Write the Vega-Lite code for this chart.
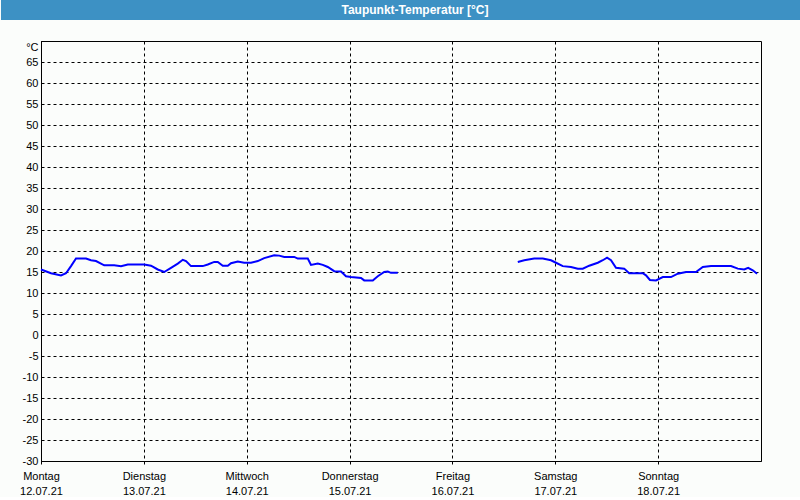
{
  "$schema": "https://vega.github.io/schema/vega-lite/v6.json",
  "background": "#fbfdfb",
  "padding": 0,
  "spacing": 20,
  "config": {"view": {"stroke": "#000000", "strokeWidth": 1}, "font": "Liberation Sans"},
  "vconcat": [
    {
      "width": 760,
      "height": 20,
      "view": {"fill": "#3d91c4", "stroke": null},
      "data": {"values": [{"titel": "Taupunkt-Temperatur [°C]"}]},
      "mark": {"type": "text", "color": "#ffffff", "font": "Liberation Sans", "fontWeight": "bold", "fontSize": 12, "dx": -6, "align": "center", "baseline": "middle"},
      "encoding": {
        "text": {"field": "titel"},
        "y": {"datum": 0.5, "type": "quantitative", "scale": {"domain": [0, 1], "nice": false, "zero": false}, "axis": {"title": null, "labels": false, "ticks": false, "grid": false, "translate": 0, "domainColor": "#3d91c4", "domainWidth": 80, "domainCap": "butt"}}
      }
    },
    {
      "width": 720,
      "height": 420,
      "data": {"values": [
        {"zeit": "2021-07-12T00:00", "wert": 15.6, "abschnitt": 1},
        {"zeit": "2021-07-12T02:20", "wert": 14.7, "abschnitt": 1},
        {"zeit": "2021-07-12T04:40", "wert": 14.2, "abschnitt": 1},
        {"zeit": "2021-07-12T05:50", "wert": 14.7, "abschnitt": 1},
        {"zeit": "2021-07-12T07:00", "wert": 16.4, "abschnitt": 1},
        {"zeit": "2021-07-12T08:10", "wert": 18.2, "abschnitt": 1},
        {"zeit": "2021-07-12T10:30", "wert": 18.2, "abschnitt": 1},
        {"zeit": "2021-07-12T11:40", "wert": 17.8, "abschnitt": 1},
        {"zeit": "2021-07-12T12:50", "wert": 17.6, "abschnitt": 1},
        {"zeit": "2021-07-12T14:45", "wert": 16.6, "abschnitt": 1},
        {"zeit": "2021-07-12T17:05", "wert": 16.6, "abschnitt": 1},
        {"zeit": "2021-07-12T18:40", "wert": 16.4, "abschnitt": 1},
        {"zeit": "2021-07-12T20:15", "wert": 16.8, "abschnitt": 1},
        {"zeit": "2021-07-13T00:05", "wert": 16.8, "abschnitt": 1},
        {"zeit": "2021-07-13T01:40", "wert": 16.5, "abschnitt": 1},
        {"zeit": "2021-07-13T03:15", "wert": 15.6, "abschnitt": 1},
        {"zeit": "2021-07-13T04:45", "wert": 15.0, "abschnitt": 1},
        {"zeit": "2021-07-13T06:20", "wert": 16.0, "abschnitt": 1},
        {"zeit": "2021-07-13T07:55", "wert": 17.0, "abschnitt": 1},
        {"zeit": "2021-07-13T09:05", "wert": 17.9, "abschnitt": 1},
        {"zeit": "2021-07-13T09:50", "wert": 17.6, "abschnitt": 1},
        {"zeit": "2021-07-13T11:00", "wert": 16.4, "abschnitt": 1},
        {"zeit": "2021-07-13T13:45", "wert": 16.4, "abschnitt": 1},
        {"zeit": "2021-07-13T14:55", "wert": 16.8, "abschnitt": 1},
        {"zeit": "2021-07-13T16:25", "wert": 17.4, "abschnitt": 1},
        {"zeit": "2021-07-13T17:15", "wert": 17.4, "abschnitt": 1},
        {"zeit": "2021-07-13T18:25", "wert": 16.5, "abschnitt": 1},
        {"zeit": "2021-07-13T19:35", "wert": 16.5, "abschnitt": 1},
        {"zeit": "2021-07-13T20:20", "wert": 17.1, "abschnitt": 1},
        {"zeit": "2021-07-13T21:55", "wert": 17.5, "abschnitt": 1},
        {"zeit": "2021-07-13T23:25", "wert": 17.2, "abschnitt": 1},
        {"zeit": "2021-07-14T01:00", "wert": 17.2, "abschnitt": 1},
        {"zeit": "2021-07-14T02:35", "wert": 17.6, "abschnitt": 1},
        {"zeit": "2021-07-14T04:05", "wert": 18.3, "abschnitt": 1},
        {"zeit": "2021-07-14T06:25", "wert": 19.0, "abschnitt": 1},
        {"zeit": "2021-07-14T07:35", "wert": 18.9, "abschnitt": 1},
        {"zeit": "2021-07-14T08:45", "wert": 18.6, "abschnitt": 1},
        {"zeit": "2021-07-14T11:05", "wert": 18.6, "abschnitt": 1},
        {"zeit": "2021-07-14T11:55", "wert": 18.2, "abschnitt": 1},
        {"zeit": "2021-07-14T14:15", "wert": 18.2, "abschnitt": 1},
        {"zeit": "2021-07-14T15:00", "wert": 16.7, "abschnitt": 1},
        {"zeit": "2021-07-14T16:35", "wert": 17.0, "abschnitt": 1},
        {"zeit": "2021-07-14T17:45", "wert": 16.7, "abschnitt": 1},
        {"zeit": "2021-07-14T18:55", "wert": 16.2, "abschnitt": 1},
        {"zeit": "2021-07-14T20:25", "wert": 15.2, "abschnitt": 1},
        {"zeit": "2021-07-14T22:00", "wert": 15.1, "abschnitt": 1},
        {"zeit": "2021-07-14T23:10", "wert": 14.0, "abschnitt": 1},
        {"zeit": "2021-07-15T00:20", "wert": 13.8, "abschnitt": 1},
        {"zeit": "2021-07-15T02:40", "wert": 13.6, "abschnitt": 1},
        {"zeit": "2021-07-15T03:25", "wert": 13.0, "abschnitt": 1},
        {"zeit": "2021-07-15T05:25", "wert": 13.0, "abschnitt": 1},
        {"zeit": "2021-07-15T06:35", "wert": 14.0, "abschnitt": 1},
        {"zeit": "2021-07-15T08:05", "wert": 15.0, "abschnitt": 1},
        {"zeit": "2021-07-15T08:55", "wert": 15.1, "abschnitt": 1},
        {"zeit": "2021-07-15T09:40", "wert": 14.8, "abschnitt": 1},
        {"zeit": "2021-07-15T11:15", "wert": 14.8, "abschnitt": 1},
        {"zeit": "2021-07-16T15:15", "wert": 17.4, "abschnitt": 2},
        {"zeit": "2021-07-16T16:45", "wert": 17.8, "abschnitt": 2},
        {"zeit": "2021-07-16T19:05", "wert": 18.2, "abschnitt": 2},
        {"zeit": "2021-07-16T21:05", "wert": 18.2, "abschnitt": 2},
        {"zeit": "2021-07-16T23:00", "wert": 17.8, "abschnitt": 2},
        {"zeit": "2021-07-17T00:10", "wert": 17.2, "abschnitt": 2},
        {"zeit": "2021-07-17T01:45", "wert": 16.4, "abschnitt": 2},
        {"zeit": "2021-07-17T03:40", "wert": 16.2, "abschnitt": 2},
        {"zeit": "2021-07-17T05:15", "wert": 15.8, "abschnitt": 2},
        {"zeit": "2021-07-17T06:25", "wert": 15.8, "abschnitt": 2},
        {"zeit": "2021-07-17T07:55", "wert": 16.5, "abschnitt": 2},
        {"zeit": "2021-07-17T09:55", "wert": 17.2, "abschnitt": 2},
        {"zeit": "2021-07-17T11:05", "wert": 17.8, "abschnitt": 2},
        {"zeit": "2021-07-17T12:05", "wert": 18.4, "abschnitt": 2},
        {"zeit": "2021-07-17T13:00", "wert": 17.8, "abschnitt": 2},
        {"zeit": "2021-07-17T14:10", "wert": 16.0, "abschnitt": 2},
        {"zeit": "2021-07-17T16:05", "wert": 15.8, "abschnitt": 2},
        {"zeit": "2021-07-17T17:15", "wert": 14.7, "abschnitt": 2},
        {"zeit": "2021-07-17T20:25", "wert": 14.7, "abschnitt": 2},
        {"zeit": "2021-07-17T21:10", "wert": 14.2, "abschnitt": 2},
        {"zeit": "2021-07-17T22:05", "wert": 13.1, "abschnitt": 2},
        {"zeit": "2021-07-17T23:30", "wert": 13.0, "abschnitt": 2},
        {"zeit": "2021-07-18T01:05", "wert": 13.8, "abschnitt": 2},
        {"zeit": "2021-07-18T03:00", "wert": 13.8, "abschnitt": 2},
        {"zeit": "2021-07-18T04:35", "wert": 14.6, "abschnitt": 2},
        {"zeit": "2021-07-18T06:30", "wert": 15.0, "abschnitt": 2},
        {"zeit": "2021-07-18T08:50", "wert": 15.0, "abschnitt": 2},
        {"zeit": "2021-07-18T10:25", "wert": 16.2, "abschnitt": 2},
        {"zeit": "2021-07-18T12:20", "wert": 16.4, "abschnitt": 2},
        {"zeit": "2021-07-18T17:00", "wert": 16.4, "abschnitt": 2},
        {"zeit": "2021-07-18T18:35", "wert": 15.8, "abschnitt": 2},
        {"zeit": "2021-07-18T20:05", "wert": 15.6, "abschnitt": 2},
        {"zeit": "2021-07-18T21:00", "wert": 16.0, "abschnitt": 2},
        {"zeit": "2021-07-18T22:05", "wert": 15.4, "abschnitt": 2},
        {"zeit": "2021-07-18T23:05", "wert": 14.6, "abschnitt": 2}
      ]},
      "mark": {"type": "line", "color": "#0000ff", "strokeWidth": 2, "interpolate": "linear"},
      "encoding": {
        "x": {
          "field": "zeit",
          "type": "temporal",
          "scale": {"domain": [{"year": 2021, "month": 7, "date": 12}, {"year": 2021, "month": 7, "date": 19}], "nice": false},
          "axis": {
            "title": null,
            "values": [
              {"year": 2021, "month": 7, "date": 12},
              {"year": 2021, "month": 7, "date": 13},
              {"year": 2021, "month": 7, "date": 14},
              {"year": 2021, "month": 7, "date": 15},
              {"year": 2021, "month": 7, "date": 16},
              {"year": 2021, "month": 7, "date": 17},
              {"year": 2021, "month": 7, "date": 18}
            ],
            "labelExpr": "[['Sonntag','Montag','Dienstag','Mittwoch','Donnerstag','Freitag','Samstag'][day(datum.value)], timeFormat(datum.value, '%d.%m.%y')]",
            "grid": true,
            "gridColor": "#000000",
            "gridDash": [3, 3],
            "gridOpacity": 1,
            "gridWidth": 1,
            "domainColor": "#000000",
            "tickColor": "#000000",
            "tickSize": 3,
            "labelPadding": 6,
            "labelColor": "#000000",
            "labelFont": "Liberation Sans",
            "labelFontSize": 11,
            "labelLineHeight": 15,
            "labelAlign": "center",
            "labelBaseline": "top",
            "labelFlush": false,
            "labelOverlap": false
          }
        },
        "y": {
          "field": "wert",
          "type": "quantitative",
          "scale": {"domain": [-30, 70], "nice": false, "zero": false},
          "axis": {
            "title": null,
            "values": [-30, -25, -20, -15, -10, -5, 0, 5, 10, 15, 20, 25, 30, 35, 40, 45, 50, 55, 60, 65, 70],
            "labelExpr": "datum.value == 70 ? '°C' : '' + datum.value",
            "ticks": false,
            "labelPadding": 3,
            "minExtent": 40,
            "grid": true,
            "gridColor": "#000000",
            "gridDash": [3, 3],
            "gridOpacity": 1,
            "gridWidth": 1,
            "domainColor": "#000000",
            "labelColor": "#000000",
            "labelFont": "Liberation Sans",
            "labelFontSize": 11,
            "labelBaseline": {"condition": {"test": "datum.value == 70", "value": "top"}, "value": "middle"},
            "labelFlush": false,
            "labelOverlap": false
          }
        },
        "detail": {"field": "abschnitt", "type": "nominal"}
      }
    }
  ]
}
